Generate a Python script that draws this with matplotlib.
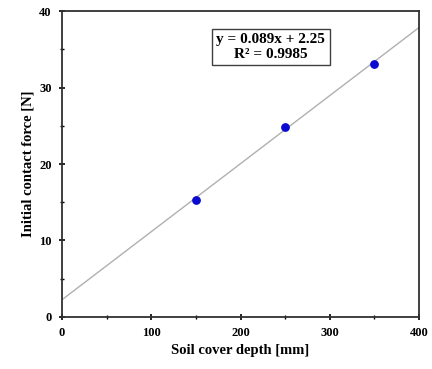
import numpy as np
import matplotlib
matplotlib.use("Agg")
import matplotlib.pyplot as plt
from matplotlib.ticker import MultipleLocator

# data
depth = [150, 250, 350]
force = [15.3, 24.8, 33.1]
slope = 0.089
intercept = 2.25
fit_x = [0, 400]

plt.rcParams['font.family'] = ['Liberation Serif', 'DejaVu Serif']
plt.rcParams['font.weight'] = 'bold'

fig = plt.figure(figsize=(4.32, 3.69), dpi=100)
ax = fig.add_axes([0.1435, 0.141, 0.8265, 0.829])

fit_y = [slope * x + intercept for x in fit_x]
ax.plot(fit_x, fit_y, color='#b0b0b0', lw=1.0, zorder=1)
ax.scatter(depth, force, s=28, color='#0a0ad0', zorder=3)

ax.set_xlim(0, 400)
ax.set_ylim(0, 40)
ax.xaxis.set_major_locator(MultipleLocator(100))
ax.xaxis.set_minor_locator(MultipleLocator(50))
ax.yaxis.set_major_locator(MultipleLocator(10))
ax.yaxis.set_minor_locator(MultipleLocator(5))
ax.tick_params(which='major', direction='inout', length=5, width=1.2, labelsize=9, pad=5)
ax.tick_params(which='minor', direction='inout', length=3, width=1.0)
for s in ax.spines.values():
    s.set_linewidth(1.3)
    s.set_color('#303030')
for lab in ax.get_xticklabels() + ax.get_yticklabels():
    lab.set_fontweight('bold')

ax.set_xlabel('Soil cover depth [mm]', fontsize=10.5, fontweight='bold', labelpad=3)
ax.set_ylabel('Initial contact force [N]', fontsize=10.5, fontweight='bold', labelpad=3)

ax.text(234, 35.3, 'y = 0.089x + 2.25\nR² = 0.9985', ha='center', va='center',
        fontsize=11, fontweight='bold', linespacing=1.15,
        bbox=dict(boxstyle='square,pad=0.3', fc='white', ec='#404040', lw=1.0))

fig.savefig('out.png', dpi=100)
